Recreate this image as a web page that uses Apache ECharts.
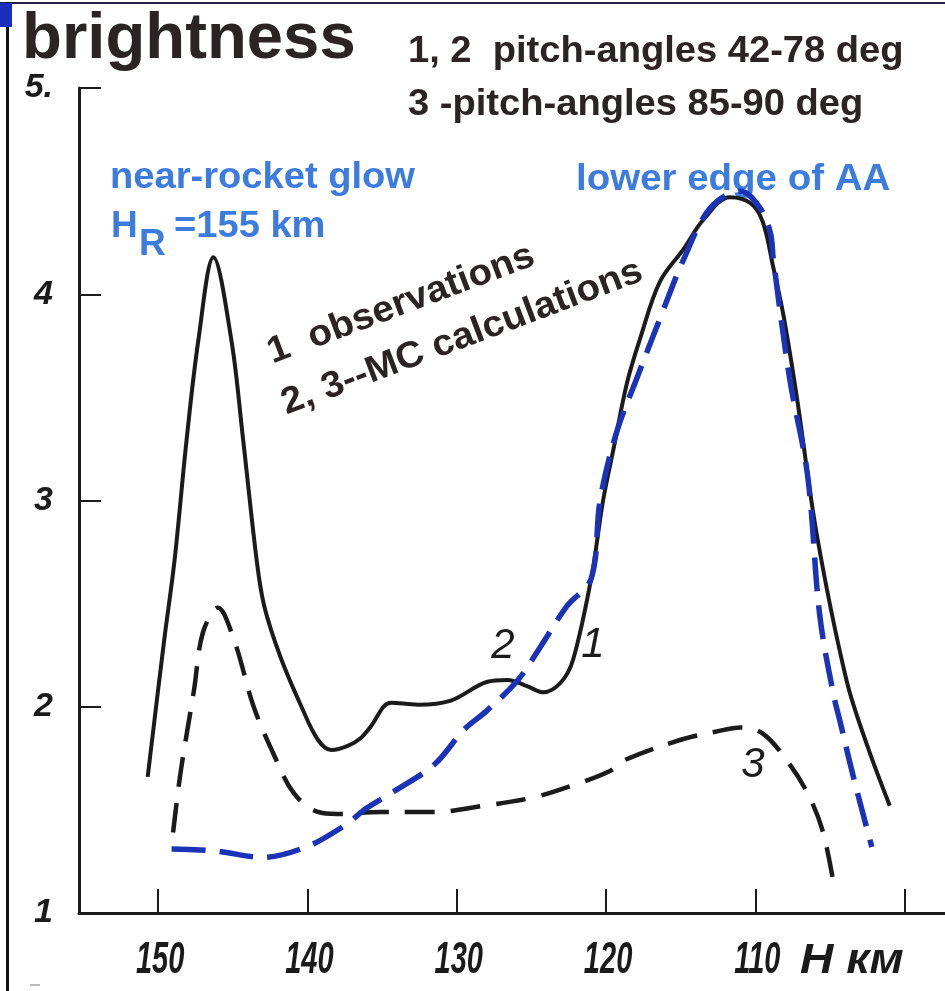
<!DOCTYPE html>
<html>
<head>
<meta charset="utf-8">
<script src="https://cdn.jsdelivr.net/npm/echarts@6/dist/echarts.min.js"></script>
<style>
  html, body { margin: 0; padding: 0; background: #fff; }
  #chart { width: 945px; height: 991px; }
</style>
</head>
<body>
<div id="chart"></div>
<script>
// Altitude ticks (km) and brightness ticks
const heightTicks = [100, 110, 120, 130, 140, 150];
const heightLabels = [110, 120, 130, 140, 150];
const brightnessTicks = [1, 2, 3, 4, 5];

// Curve 1: observations
const curve1Km = [150.7, 149.6, 148.9, 148.1, 147.3, 146.3, 145.1, 144.3, 143.4, 142.9, 141.8, 140.4, 139.3, 138.4, 137.3, 136.4, 135.8, 134.4, 132.6, 130.4, 128.0, 126.6, 125.3, 124.2, 123.0, 122.2, 121.0, 120.2, 119.5, 118.6, 117.7, 116.4, 114.8, 113.5, 111.7, 110.3, 109.5, 108.8, 108.1, 107.2, 105.9, 103.9, 102.5, 101.0];
const curve1Val = [1.66, 2.32, 2.71, 3.29, 3.78, 4.18, 3.78, 3.29, 2.71, 2.49, 2.24, 2.00, 1.84, 1.79, 1.81, 1.85, 1.90, 2.02, 2.01, 2.03, 2.12, 2.13, 2.10, 2.07, 2.12, 2.23, 2.62, 3.00, 3.25, 3.57, 3.79, 4.06, 4.22, 4.36, 4.47, 4.44, 4.35, 4.13, 3.89, 3.49, 2.84, 2.13, 1.81, 1.52];

// Curve 2: MC calculation, pitch-angles 42-78 deg
const curve2Km = [149.1, 146.1, 143.0, 140.1, 137.6, 136.0, 134.2, 131.5, 129.5, 128.0, 125.9, 124.4, 122.6, 121.0, 120.4, 119.3, 117.9, 116.4, 114.8, 113.0, 111.0, 109.7, 109.0, 108.8, 107.7, 106.5, 105.7, 104.8, 104.3, 103.4, 102.2];
const curve2Val = [1.31, 1.30, 1.27, 1.32, 1.42, 1.51, 1.59, 1.72, 1.89, 1.98, 2.13, 2.29, 2.49, 2.62, 3.00, 3.33, 3.60, 3.88, 4.17, 4.42, 4.50, 4.42, 4.30, 4.17, 3.59, 3.12, 2.45, 2.07, 1.92, 1.65, 1.32];

// Curve 3: MC calculation, pitch-angles 85-90 deg
const curve3Km = [149.0, 148.5, 147.6, 147.0, 146.0, 144.9, 143.6, 142.2, 140.9, 139.3, 138.0, 135.1, 131.5, 128.2, 124.9, 122.2, 119.7, 118.8, 115.0, 112.6, 111.0, 109.5, 107.9, 106.5, 105.5, 104.8];
const curve3Val = [1.39, 1.68, 2.08, 2.36, 2.48, 2.32, 2.00, 1.76, 1.58, 1.49, 1.48, 1.49, 1.49, 1.52, 1.56, 1.62, 1.69, 1.74, 1.84, 1.88, 1.90, 1.87, 1.74, 1.58, 1.40, 1.16];

const pairs = (xs, ys) => xs.map((x, i) => [x, ys[i]]);

const INK = '#1b1b1b';
const TEXT_DARK = '#2b2424';
const TEXT_BLUE = '#3c7ce0';
const CURVE_BLUE = '#1a33b8';
const LABEL = "'Liberation Sans', Arial, sans-serif";

// plain text helper for the annotations
function note(text, x, y, opts) {
  const o = opts || {};
  return {
    type: 'text', x: x, y: y,
    rotation: o.rotation || 0,
    scaleX: o.scaleX || 1,
    silent: true,
    style: {
      text: text,
      fill: o.fill || TEXT_DARK,
      fontSize: o.size || 32,
      fontWeight: o.weight || 'bold',
      fontStyle: o.style || 'normal',
      fontFamily: o.family || LABEL,
      align: o.align || 'left', textAlign: o.align || 'left',
      verticalAlign: 'middle', textVerticalAlign: 'middle'
    }
  };
}

const chart = echarts.init(document.getElementById('chart'), null, { renderer: 'canvas' });

chart.setOption({
  backgroundColor: '#ffffff',
  animation: false,
  grid: { left: 79, right: 0, top: 88, bottom: 78, containLabel: false },
  xAxis: {
    type: 'value',
    inverse: true,
    min: 97.3,
    max: 155.3,
    axisLine: { show: true, onZero: false, lineStyle: { color: INK, width: 3 } },
    axisTick: { show: true, inside: true, length: 24, lineStyle: { color: INK, width: 2 }, customValues: heightTicks },
    // the narrow italic numerals are placed below as scaled text at the axis positions
    axisLabel: { show: false },
    splitLine: { show: false }
  },
  yAxis: {
    type: 'value',
    min: 1,
    max: 5,
    interval: 1,
    axisLine: { show: true, lineStyle: { color: INK, width: 3 } },
    axisTick: { show: true, inside: true, length: 22, lineStyle: { color: INK, width: 2 } },
    axisLabel: {
      show: true, margin: 26,
      color: INK, fontSize: 34, fontStyle: 'italic', fontWeight: 'bold', fontFamily: LABEL,
      formatter: v => (v === 5 ? '5.' : String(v))
    },
    splitLine: { show: false }
  },
  series: [
    {
      name: '1', type: 'line', data: pairs(curve1Km, curve1Val),
      smooth: 0.35, symbol: 'none', z: 3,
      lineStyle: { color: INK, width: 4 }
    },
    {
      name: '3', type: 'line', data: pairs(curve3Km, curve3Val),
      smooth: 0.35, symbol: 'none', z: 2,
      lineStyle: { color: INK, width: 4.5, type: [30, 16] }
    },
    {
      name: '2', type: 'line', data: pairs(curve2Km, curve2Val),
      smooth: 0.35, symbol: 'none', z: 4,
      lineStyle: { color: CURVE_BLUE, width: 5.5, type: [34, 14] }
    }
  ]
});

// altitude numerals, positioned by the x axis scale
const axisBaseY = chart.convertToPixel({ yAxisIndex: 0 }, 1);
const altitudeNumerals = heightLabels.map(v =>
  note(String(v), chart.convertToPixel({ xAxisIndex: 0 }, v) + 2, axisBaseY + 48,
       { size: 44, scaleX: 0.66, style: 'italic', fill: INK, align: 'center' })
);

chart.setOption({
  graphic: [
    // frame
    { type: 'rect', shape: { x: 0, y: 2, width: 945, height: 2 }, style: { fill: '#202040' }, silent: true },
    { type: 'rect', shape: { x: 6, y: 2, width: 3, height: 989 }, style: { fill: '#111' }, silent: true },
    { type: 'rect', shape: { x: 0, y: 3, width: 12, height: 24 }, style: { fill: '#1a2fc0' }, silent: true },
    { type: 'rect', shape: { x: 30, y: 984, width: 10, height: 2 }, style: { fill: '#bbb' }, silent: true },

    // titles
    note('brightness', 22, 40, { size: 64, scaleX: 1.02 }),
    note('1, 2  pitch-angles 42-78 deg', 408, 52, { size: 37, scaleX: 1.03 }),
    note('3 -pitch-angles 85-90 deg', 408, 105, { size: 37, scaleX: 1.03 }),

    // blue annotations
    note('near-rocket glow', 110, 178, { size: 37, scaleX: 1.03, fill: TEXT_BLUE }),
    note('H', 111, 227, { size: 37, fill: TEXT_BLUE }),
    note('R', 139, 245, { size: 37, fill: TEXT_BLUE }),
    note('=155 km', 174, 227, { size: 37, scaleX: 1.03, fill: TEXT_BLUE }),
    note('lower edge of AA', 576, 180, { size: 37, scaleX: 1.04, fill: TEXT_BLUE }),

    // legend notes, slanted
    note('1  observations', 269, 354, { size: 37, scaleX: 1.04, rotation: 0.36 }),
    note('2, 3--MC calculations', 283, 405, { size: 37, scaleX: 1.04, rotation: 0.36 }),

    // curve numbers
    note('2', 503, 646, { size: 42, weight: 'normal', style: 'italic', fill: INK, align: 'center' }),
    note('1', 593, 645, { size: 42, weight: 'normal', style: 'italic', fill: INK, align: 'center' }),
    note('3', 753, 765, { size: 42, weight: 'normal', style: 'italic', fill: INK, align: 'center' }),

    // axis unit
    note('H км', 800, 961, { size: 42, scaleX: 1.1, style: 'italic', fill: INK })
  ].concat(altitudeNumerals)
});
</script>
</body>
</html>
